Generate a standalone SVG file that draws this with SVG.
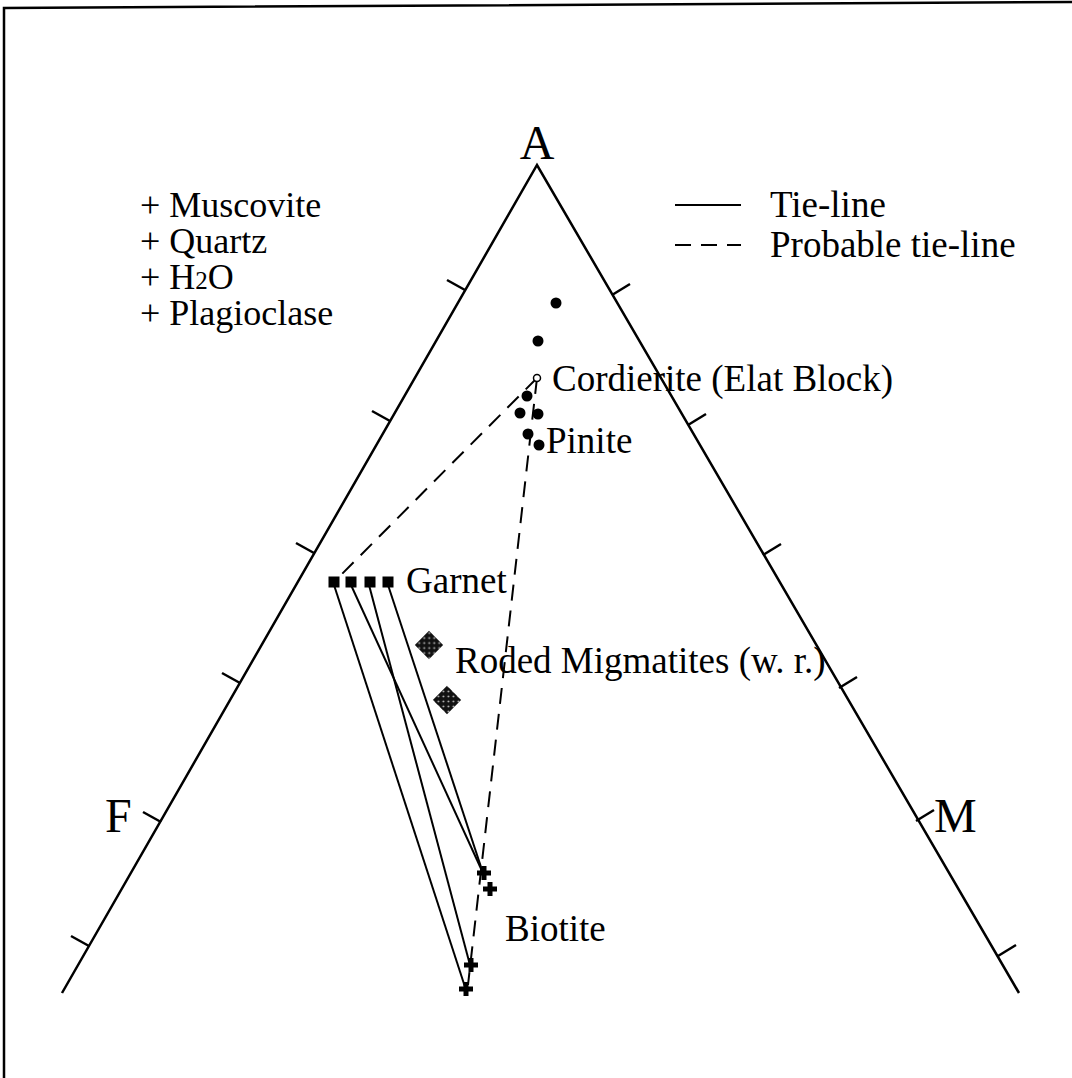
<svg xmlns="http://www.w3.org/2000/svg" width="1072" height="1078" viewBox="0 0 1072 1078">
<style>
text{font-family:"Liberation Serif","Times New Roman",serif;fill:#000}
.lbl{font-size:37px}
.sm{font-size:36px}
.big{font-size:48px}
.ax{stroke:#000;stroke-width:2.5;fill:none}
.tie{stroke:#000;stroke-width:2;fill:none}
.prob{stroke:#000;stroke-width:2;fill:none;stroke-dasharray:16 10}
.dot{fill:#000}
</style>
<defs>
<pattern id="dots" width="5" height="5" patternUnits="userSpaceOnUse" patternTransform="rotate(45)">
<rect width="5" height="5" fill="#111"/>
<circle cx="2.5" cy="2.5" r="0.9" fill="#bbb"/>
</pattern>
<path id="cross" d="M-2.5,-7h5v4.5h4.5v5h-4.5v4.5h-5v-4.5h-4.5v-5h4.5z" fill="#000"/>
<rect id="sq" x="-5.5" y="-5.5" width="11" height="11" fill="#000"/>
</defs>
<rect width="1072" height="1078" fill="#fff"/>
<g id="frame">
<path d="M4,1078 V8 L1072,2" class="ax" stroke-width="3"/>
</g>
<g id="triangle">
<path d="M62,993 L537,165 L1019,993" class="ax"/>
<g class="ax">
<line x1="465" y1="290" x2="447" y2="280"/>
<line x1="390" y1="421" x2="372" y2="411"/>
<line x1="314" y1="553" x2="296" y2="543"/>
<line x1="240" y1="683" x2="222" y2="673"/>
<line x1="161" y1="822" x2="143" y2="812"/>
<line x1="89" y1="946" x2="71" y2="936"/>
<line x1="612" y1="295" x2="630" y2="284"/>
<line x1="688" y1="425" x2="706" y2="414"/>
<line x1="763" y1="555" x2="781" y2="544"/>
<line x1="839" y1="688" x2="857" y2="677"/>
<line x1="916" y1="821" x2="934" y2="810"/>
<line x1="998" y1="956" x2="1016" y2="945"/>
</g>
<text x="537" y="159" text-anchor="middle" class="big">A</text>
<text x="105" y="832" class="big">F</text>
<text x="934" y="832" class="big" font-size="50">M</text>
</g>
<g id="assemblage">
<text x="140" y="217" class="sm">+ Muscovite</text>
<text x="140" y="253" class="sm">+ Quartz</text>
<text x="140" y="289" class="sm">+ H<tspan font-size="25">2</tspan>O</text>
<text x="140" y="325" class="sm">+ Plagioclase</text>
</g>
<g id="legend">
<line x1="675" y1="205" x2="741" y2="205" class="tie"/>
<text x="770" y="217" class="lbl">Tie-line</text>
<line x1="675" y1="245" x2="741" y2="245" class="prob" stroke-dasharray="14 12"/>
<text x="770" y="257" class="lbl">Probable tie-line</text>
</g>
<g id="connectors">
<line x1="537" y1="378" x2="334" y2="582" class="prob"/>
<line x1="537" y1="378" x2="468" y2="985" class="prob"/>
<line x1="334" y1="585" x2="466" y2="990" class="tie"/>
<line x1="351" y1="585" x2="483" y2="873" class="tie"/>
<line x1="369" y1="585" x2="470" y2="965" class="tie"/>
<line x1="388" y1="585" x2="483" y2="873" class="tie"/>
</g>
<g id="cordierite">
<circle cx="556" cy="303" r="5.5" class="dot"/>
<circle cx="538" cy="341" r="5.5" class="dot"/>
<circle cx="537" cy="378" r="3.5" fill="#fff" stroke="#000" stroke-width="1.5"/>
<circle cx="527" cy="396" r="5.5" class="dot"/>
<circle cx="520" cy="413" r="5.5" class="dot"/>
<circle cx="538" cy="414" r="5.5" class="dot"/>
<circle cx="528" cy="434" r="5.5" class="dot"/>
<circle cx="539" cy="445" r="5.5" class="dot"/>
<text x="552" y="391" class="lbl">Cordierite (Elat Block)</text>
<text x="546" y="453" class="lbl">Pinite</text>
</g>
<g id="garnet">
<use href="#sq" x="334" y="582"/>
<use href="#sq" x="351" y="582"/>
<use href="#sq" x="370" y="582"/>
<use href="#sq" x="388" y="582"/>
<text x="406" y="593" class="lbl">Garnet</text>
</g>
<g id="migmatites">
<rect x="419" y="635" width="20" height="20" fill="url(#dots)" transform="rotate(45 429 645)"/>
<rect x="437" y="690" width="20" height="20" fill="url(#dots)" transform="rotate(45 447 700)"/>
<text x="455" y="673" class="lbl">Roded Migmatites (w. r.)</text>
</g>
<g id="biotite">
<use href="#cross" x="484" y="873"/>
<use href="#cross" x="490" y="889"/>
<use href="#cross" x="471" y="965"/>
<use href="#cross" x="466" y="989"/>
<text x="505" y="941" class="lbl">Biotite</text>
</g>
</svg>
